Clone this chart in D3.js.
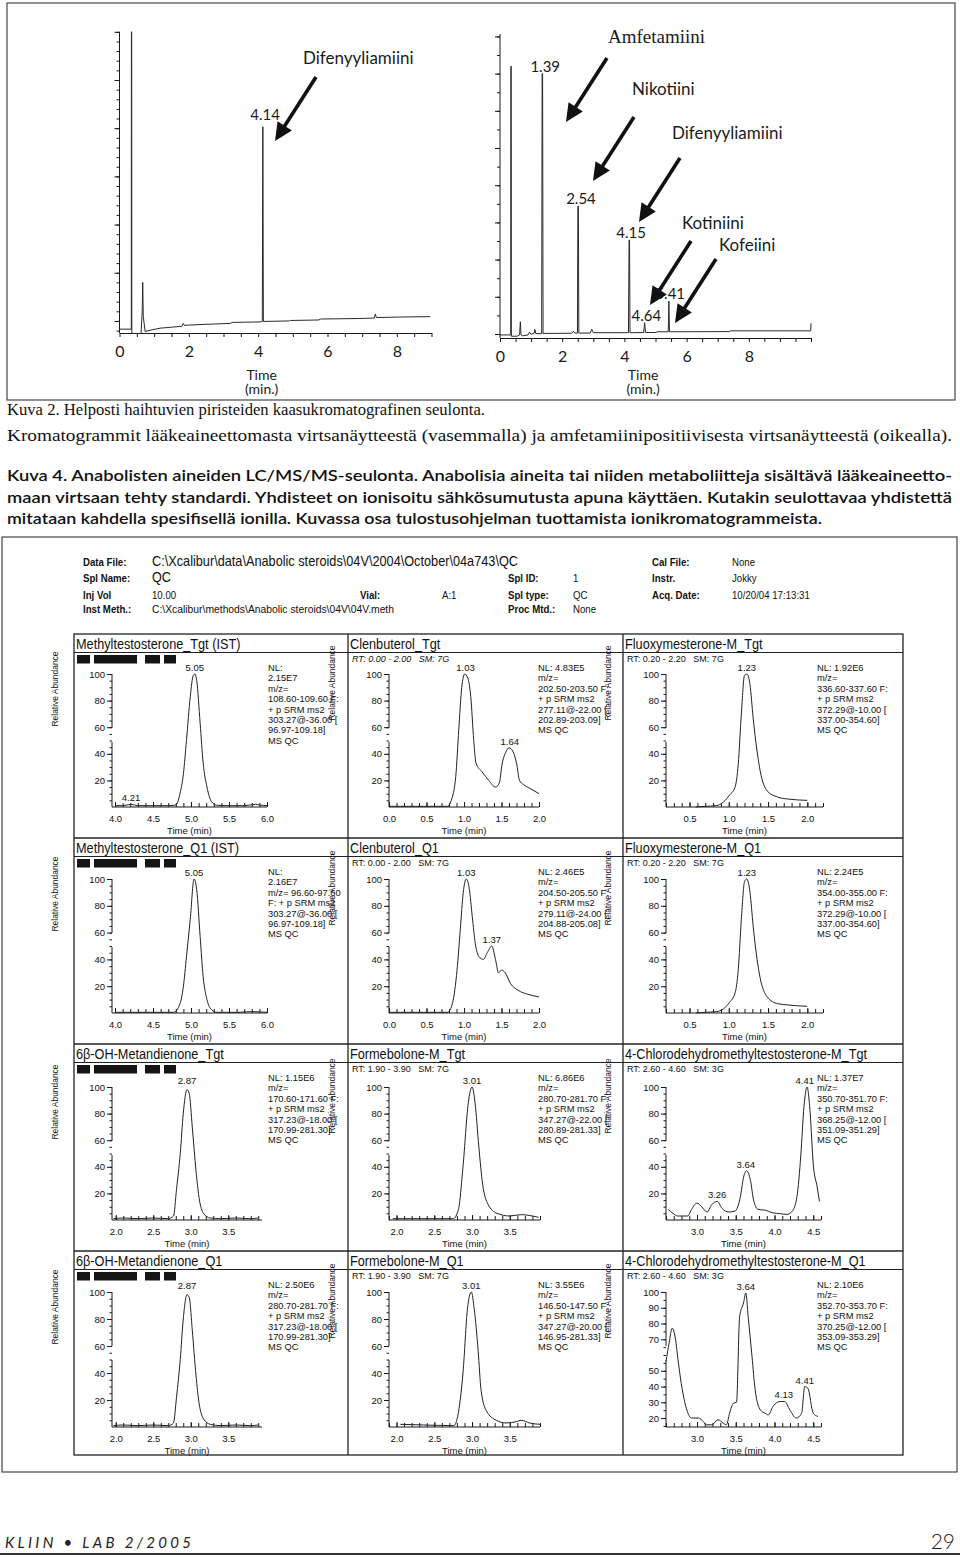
<!DOCTYPE html>
<html><head><meta charset="utf-8">
<script src="https://d3js.org/d3.v7.min.js"></script>
<style>html,body{margin:0;padding:0;background:#fff}</style>
</head><body>
<svg id="c" width="960" height="1557" xmlns="http://www.w3.org/2000/svg"></svg>
<script>
// ================= DATA =================
// GC chromatograms: [time (min), response]
const gcLeftTrace = [[0,-0.17],[0.34,-0.17],[0.343,6.0],[0.352,6.0],[0.356,-0.26],[0.62,-0.26],[0.655,0.2],[0.67,0.8],[0.685,0.1],[0.74,-0.22],[0.9,-0.19],[1.17,-0.15],[1.5,-0.13],[1.8,-0.11],[1.84,-0.05],[1.87,-0.09],[2.5,-0.07],[3.2,-0.05],[3.25,-0.03],[4.05,-0.02],[4.12,-0.01],[4.135,4.03],[4.15,-0.01],[4.9,0.0],[4.93,0.01],[5.75,0.02],[5.8,0.04],[6.9,0.05],[7.35,0.06],[7.38,0.14],[7.41,0.07],[8.0,0.08],[8.96,0.09]];
const gcLeftPeaks = [["4.14",4.14,4.03]];
const gcLeftArrows = [{name:"Difenyyliamiini",tip:[4.486,3.734],ldx:-13,ldy:-13}];
const gcRightTrace = [[0,-0.05],[0.345,-0.05],[0.35,14.4],[0.36,14.4],[0.365,-0.12],[0.55,-0.12],[0.63,-0.05],[0.655,0.66],[0.675,-0.05],[0.72,-0.1],[0.9,-0.05],[0.95,0.1],[1.0,-0.02],[1.1,0.05],[1.12,0.25],[1.15,0.02],[1.34,0.02],[1.355,14.0],[1.37,14.0],[1.385,0.03],[2.3,0.04],[2.36,0.15],[2.4,0.05],[2.49,0.05],[2.505,6.88],[2.52,6.88],[2.535,0.05],[2.9,0.05],[2.95,0.25],[3.0,0.07],[4.13,0.07],[4.15,5.05],[4.165,5.05],[4.18,0.07],[4.62,0.08],[4.65,0.61],[4.68,0.08],[5.03,0.08],[5.04,0.12],[5.41,0.12],[5.43,1.77],[5.45,0.12],[7.38,0.13],[7.4,0.17],[9.99,0.17],[10.0,0.57]];
const gcRightPeaks = [["1.39",1.39,14.0],["2.54",2.54,6.88],["4.15",4.15,5.05],["4.64",4.64,0.61],["5.41",5.41,1.77]];
const gcRightArrows = [
  {name:"Amfetamiini",tip:[2.122,11.40],ldx:1,ldy:-15,serif:true},
  {name:"Nikotiini",tip:[2.990,8.226],ldx:-2,ldy:-22},
  {name:"Difenyyliamiini",tip:[4.469,6.022],ldx:-8,ldy:-19},
  {name:"Kotiniini",tip:[4.823,1.559],ldx:-9,ldy:-12},
  {name:"Kofeiini",tip:[5.627,0.591],ldx:3,ldy:-8}];
const gcTickLabels = [0,2,4,6,8];

// LC/MS/MS ion chromatograms: [time (min), relative abundance %]
const mtTgt = [[4.0,1],[4.1,1],[4.21,2],[4.3,1],[4.5,1],[4.7,1],[4.8,1.5],[4.855,10],[4.9,25],[4.94,50],[4.99,83],[5.03,99],[5.05,100],[5.075,95],[5.12,63],[5.16,33],[5.21,15],[5.27,4],[5.34,1.3],[5.5,1],[5.7,1],[5.85,2],[5.9,1.5],[6.0,1]];
const mtQ1 = [[4.0,0.5],[4.3,0.5],[4.6,0.5],[4.77,0.5],[4.855,7],[4.9,20],[4.94,42],[4.99,70],[5.04,100],[5.075,92],[5.12,57],[5.16,27],[5.21,10],[5.27,2.5],[5.34,0.5],[5.6,0.5],[5.8,1],[6.0,0.5]];
const ohTgt = [[1.97,1],[2.1,1.5],[2.3,1],[2.5,1.5],[2.7,1],[2.77,3],[2.81,23],[2.86,50],[2.9,80],[2.95,98],[2.98,95],[3.02,70],[3.07,37],[3.11,17],[3.17,5],[3.26,1.5],[3.4,1],[3.6,1.5],[3.8,1],[3.9,1.5]];
const ohQ1 = [[1.97,1],[2.1,1.5],[2.3,1],[2.5,1.5],[2.7,1],[2.77,3],[2.81,22],[2.86,50],[2.9,80],[2.95,98],[2.98,96],[3.02,72],[3.07,38],[3.11,18],[3.17,6],[3.26,2],[3.4,1],[3.6,1.5],[3.8,1],[3.9,1.5]];
const clTgt = [[0,0.5],[0.4,0.5],[0.78,0.5],[0.83,5],[0.89,23],[0.93,58],[0.97,90],[1.01,100],[1.05,97],[1.09,83],[1.13,50],[1.16,33],[1.24,26.5],[1.33,20],[1.42,15],[1.47,18],[1.51,33],[1.56,41.5],[1.6,44.5],[1.65,42],[1.7,33],[1.74,20],[1.79,17],[1.88,14],[2.0,10]];
const clQ1 = [[0,0.5],[0.5,0.5],[0.78,0.5],[0.84,6],[0.9,28],[0.95,62],[0.99,90],[1.03,100],[1.07,93],[1.11,72],[1.15,52],[1.2,42],[1.26,40],[1.31,45],[1.37,50],[1.42,40],[1.46,30],[1.5,32],[1.55,30],[1.62,22],[1.72,17],[1.85,14],[2.0,12]];
const fxTgt = [[0.58,0],[0.7,0.5],[0.84,1],[0.93,3.7],[1.01,9],[1.08,15],[1.12,32],[1.16,70],[1.2,99],[1.23,100],[1.27,92],[1.31,67],[1.36,42],[1.4,27],[1.49,12],[1.62,7.5],[1.75,6],[2.0,5]];
const fxQ1 = [[0.58,0],[0.7,0.5],[0.84,1],[0.93,3],[1.01,8],[1.08,15],[1.12,32],[1.16,70],[1.2,98],[1.23,100],[1.27,90],[1.31,65],[1.36,40],[1.4,26],[1.49,12],[1.62,7],[1.75,6],[2.0,5]];
const fbTgt = [[1.95,1],[2.2,1],[2.5,1],[2.75,1],[2.82,8],[2.88,40],[2.95,88],[3.0,100],[3.04,88],[3.09,55],[3.14,27],[3.21,12],[3.33,5],[3.5,3],[3.65,4],[3.88,2]];
const fbQ1 = [[2.05,2],[2.36,1.5],[2.76,1],[2.81,8],[2.88,40],[2.94,88],[2.99,100],[3.03,87],[3.08,57],[3.12,27],[3.19,12],[3.32,5],[3.45,3],[3.59,4],[3.65,5],[3.76,3],[3.9,2]];
const chTgt = [[2.63,7.9],[2.69,5],[2.75,3],[2.88,3],[2.93,8],[3.0,12.7],[3.06,10],[3.13,6],[3.19,11.5],[3.26,14],[3.32,9],[3.41,6],[3.49,6.7],[3.56,17.6],[3.6,32],[3.64,37],[3.69,29.7],[3.73,15],[3.79,7.9],[3.88,7.4],[3.97,5.5],[4.08,4.7],[4.16,4.2],[4.23,6.7],[4.29,17.6],[4.34,49],[4.38,85],[4.42,100],[4.46,80.6],[4.5,42],[4.55,25],[4.58,14]];
const chQ1 = [[2.6,56],[2.64,67.6],[2.68,77],[2.72,70.8],[2.76,55],[2.81,38],[2.87,25],[2.93,20],[3.02,20],[3.08,17.8],[3.12,15.7],[3.19,15.7],[3.27,18.9],[3.34,16.7],[3.38,15.7],[3.42,23],[3.47,29.4],[3.51,30],[3.55,84.5],[3.6,93],[3.63,99.4],[3.66,84.5],[3.71,59],[3.75,38],[3.82,25],[3.88,23],[3.92,22],[3.98,27.3],[4.07,30.5],[4.13,30.5],[4.2,25],[4.28,20],[4.35,23],[4.39,40],[4.43,39],[4.5,23],[4.56,21]];

const panelTitles = [
  ["Methyltestosterone_Tgt (IST)","Clenbuterol_Tgt","Fluoxymesterone-M_Tgt"],
  ["Methyltestosterone_Q1 (IST)","Clenbuterol_Q1","Fluoxymesterone-M_Q1"],
  ["6β-OH-Metandienone_Tgt","Formebolone-M_Tgt","4-Chlorodehydromethyltestosterone-M_Tgt"],
  ["6β-OH-Metandienone_Q1","Formebolone-M_Q1","4-Chlorodehydromethyltestosterone-M_Q1"]];
const panelSeries = [[mtTgt,clTgt,fxTgt],[mtQ1,clQ1,fxQ1],[ohTgt,fbTgt,chTgt],[ohQ1,fbQ1,chQ1]];
const panelRT = [[null,"RT: 0.00 - 2.00   SM: 7G","RT: 0.20 - 2.20   SM: 7G"],[null,"RT: 0.00 - 2.00   SM: 7G","RT: 0.20 - 2.20   SM: 7G"],[null,"RT: 1.90 - 3.90   SM: 7G","RT: 2.60 - 4.60   SM: 3G"],[null,"RT: 1.90 - 3.90   SM: 7G","RT: 2.60 - 4.60   SM: 3G"]];
const panelInfo = [
  [["NL:","2.15E7","m/z=","108.60-109.60 F:","+ p SRM ms2","303.27@-36.00 [","96.97-109.18]","MS QC"],
   ["NL: 4.83E5","m/z=","202.50-203.50 F:","+ p SRM ms2","277.11@-22.00 [","202.89-203.09]","MS QC"],
   ["NL: 1.92E6","m/z=","336.60-337.60 F:","+ p SRM ms2","372.29@-10.00 [","337.00-354.60]","MS QC"]],
  [["NL:","2.16E7","m/z= 96.60-97.60","F: + p SRM ms2","303.27@-36.00 [","96.97-109.18]","MS QC"],
   ["NL: 2.46E5","m/z=","204.50-205.50 F:","+ p SRM ms2","279.11@-24.00 [","204.88-205.08]","MS QC"],
   ["NL: 2.24E5","m/z=","354.00-355.00 F:","+ p SRM ms2","372.29@-10.00 [","337.00-354.60]","MS QC"]],
  [["NL: 1.15E6","m/z=","170.60-171.60 F:","+ p SRM ms2","317.23@-18.00 [","170.99-281.30]","MS QC"],
   ["NL: 6.86E6","m/z=","280.70-281.70 F:","+ p SRM ms2","347.27@-22.00 [","280.89-281.33]","MS QC"],
   ["NL: 1.37E7","m/z=","350.70-351.70 F:","+ p SRM ms2","368.25@-12.00 [","351.09-351.29]","MS QC"]],
  [["NL: 2.50E6","m/z=","280.70-281.70 F:","+ p SRM ms2","317.23@-18.00 [","170.99-281.30]","MS QC"],
   ["NL: 3.55E6","m/z=","146.50-147.50 F:","+ p SRM ms2","347.27@-20.00 [","146.95-281.33]","MS QC"],
   ["NL: 2.10E6","m/z=","352.70-353.70 F:","+ p SRM ms2","370.25@-12.00 [","353.09-353.29]","MS QC"]]];
const panelPeaks = [
  [[["5.05",5.05,100],["4.21",4.21,2]],[["1.03",1.02,100],["1.64",1.61,44.5]],[["1.23",1.23,100]]],
  [[["5.05",5.04,100]],[["1.03",1.03,100],["1.37",1.37,50]],[["1.23",1.23,100]]],
  [[["2.87",2.95,100]],[["3.01",3.0,100]],[["4.41",4.39,100],["3.64",3.63,37],["3.26",3.26,14]]],
  [[["2.87",2.95,100]],[["3.01",2.99,100]],[["3.64",3.63,99.4],["4.13",4.12,30.5],["4.41",4.39,40]]]];
const panelXDomain = [[[3.96,6.0],[0,2.0],[0.2,2.2]],[[3.96,6.0],[0,2.0],[0.2,2.2]],[[1.95,3.95],[1.9,3.9],[2.6,4.6]],[[1.95,3.95],[1.9,3.9],[2.6,4.6]]];
const panelXTicks = [[[4.0,4.5,5.0,5.5,6.0],[0,0.5,1.0,1.5,2.0],[0.5,1.0,1.5,2.0]],[[4.0,4.5,5.0,5.5,6.0],[0,0.5,1.0,1.5,2.0],[0.5,1.0,1.5,2.0]],[[2.0,2.5,3.0,3.5],[2.0,2.5,3.0,3.5],[3.0,3.5,4.0,4.5]],[[2.0,2.5,3.0,3.5],[2.0,2.5,3.0,3.5],[3.0,3.5,4.0,4.5]]];
const yTicksStd = [20,40,60,80,100];
const yTicksQ1ch = [20,30,40,50,70,80,90,100];

const headerRows = [
  [["Data File:",83,"b"],["C:\\Xcalibur\\data\\Anabolic steroids\\04V\\2004\\October\\04a743\\QC",152,"L",366],["Cal File:",652,"b"],["None",732,"n"]],
  [["Spl Name:",83,"b"],["QC",152,"L"],["Spl ID:",508,"b"],["1",573,"n"],["Instr.",652,"b"],["Jokky",732,"n"]],
  [["Inj Vol",83,"b"],["10.00",152,"n"],["Vial:",360,"b"],["A:1",442,"n"],["Spl type:",508,"b"],["QC",573,"n"],["Acq. Date:",652,"b"],["10/20/04 17:13:31",732,"n"]],
  [["Inst Meth.:",83,"b"],["C:\\Xcalibur\\methods\\Anabolic steroids\\04V\\04V.meth",152,"n",242],["Proc Mtd.:",508,"b"],["None",573,"n"]]];

// ================= DRAW =================
const SANS="'Liberation Sans', Arial, Helvetica, sans-serif";
const OPT="Lato, 'Open Sans', sans-serif";
const SERIF="'Liberation Serif', 'Times New Roman', serif";
const INK="#1a1a1a";
const svg=d3.select('#c');
svg.append('rect').attr('width',960).attr('height',1557).attr('fill','#fff');

// ---------- top GC section ----------
svg.append('rect').attr('x',7).attr('y',3).attr('width',948).attr('height',397)
  .attr('fill','none').attr('stroke','#555').attr('stroke-width',1.3);

function gcChart(o){
  const x=d3.scaleLinear().domain(o.xd).range(o.xr);
  const y=d3.scaleLinear().domain(o.yd).range(o.yr);
  const g=svg.append('g');
  const style=s=>{s.selectAll('path,line').attr('stroke',INK).attr('stroke-width',1);};
  g.append('g').attr('transform',`translate(${o.xr[0]},0)`)
    .call(d3.axisLeft(y).tickValues(o.yMinor).tickSize(3).tickSizeOuter(0).tickFormat(''))
    .call(style).call(s=>s.select('.domain').remove());
  g.append('g').attr('transform',`translate(${o.xr[0]},0)`)
    .call(d3.axisLeft(y).tickValues(o.yMajor).tickSize(5).tickSizeOuter(0).tickFormat(''))
    .call(style).call(s=>s.select('.domain').remove());
  g.append('line').attr('x1',o.xr[0]).attr('x2',o.xr[0]).attr('y1',o.yr[0]).attr('y2',o.yr[1]).attr('stroke',INK);
  g.append('g').attr('transform',`translate(0,${o.yr[0]})`)
    .call(d3.axisBottom(x).tickValues(o.xTicks).tickSize(4).tickSizeOuter(0).tickPadding(9)
      .tickFormat(d=>gcTickLabels.includes(d)?d:''))
    .call(style)
    .call(s=>s.selectAll('text').attr('font-family',OPT).attr('font-size',16).attr('fill',INK));
  g.append('path').datum(o.trace).attr('fill','none').attr('stroke','#2a2a2a').attr('stroke-width',1)
    .attr('d',d3.line().x(d=>x(d[0])).y(d=>y(d[1])));
  g.selectAll('.pk').data(o.peaks).join('text')
    .attr('x',d=>x(d[1])+o.pkdx).attr('y',d=>y(d[2])-o.pkOff)
    .attr('text-anchor','middle').attr('font-family',o.pkFont).attr('font-size',15).attr('fill',INK).text(d=>d[0]);
  o.arrows.forEach(a=>{
    const tx=x(a.tip[0]), ty=y(a.tip[1]);
    const sx=tx+41, sy=ty-64;
    const dx=tx-sx, dy=ty-sy, L=Math.hypot(dx,dy), ux=dx/L, uy=dy/L;
    const hl=18, hw=8.5;
    const bx=tx-ux*hl, by=ty-uy*hl;
    g.append('line').attr('x1',sx).attr('y1',sy).attr('x2',bx+ux*2).attr('y2',by+uy*2)
      .attr('stroke','#111').attr('stroke-width',3.6);
    g.append('path').attr('fill','#111')
      .attr('d',`M${tx},${ty}L${bx-uy*hw},${by+ux*hw}L${bx+uy*hw},${by-ux*hw}Z`);
    g.append('text').attr('x',sx+a.ldx).attr('y',sy+a.ldy)
      .attr('font-family',a.serif?SERIF:OPT).attr('font-size',a.serif?19:17).attr('fill',INK).text(a.name);
  });
  g.append('text').attr('x',x(o.timeAt)).attr('y',380).attr('text-anchor','middle')
    .attr('font-family',OPT).attr('font-size',14).attr('fill',INK).text('Time');
  g.append('text').attr('x',x(o.timeAt)).attr('y',394).attr('text-anchor','middle')
    .attr('font-family',OPT).attr('font-size',14).attr('fill',INK).text('(min.)');
}
gcChart({xd:[0,9],xr:[119.5,431.5],yd:[-0.25,6.0],yr:[333,31.8],
  yMajor:d3.range(0,6.01,1),yMinor:d3.range(-0.2,6.01,0.2),xTicks:d3.range(0,9.01,0.5),
  trace:gcLeftTrace,peaks:gcLeftPeaks,arrows:gcLeftArrows,pkOff:7,pkdx:2,pkFont:OPT,timeAt:4.1});
gcChart({xd:[0,10],xr:[500,811],yd:[-0.215,16.13],yr:[338,34],
  yMajor:d3.range(0,16.01,2),yMinor:d3.range(0,16.01,1),xTicks:d3.range(0,10.01,0.5),
  trace:gcRightTrace,peaks:gcRightPeaks,arrows:gcRightArrows,pkOff:2,pkdx:2,pkFont:OPT,timeAt:4.6});

// ---------- captions ----------
function cap(txt,x,y,font,size,weight,len){
  const t=svg.append('text').attr('x',x).attr('y',y).attr('font-family',font).attr('font-size',size)
    .attr('font-weight',weight).attr('fill','#111').text(txt);
  if(len) t.attr('textLength',len).attr('lengthAdjust','spacingAndGlyphs');
}
cap("Kuva 2. Helposti haihtuvien piristeiden kaasukromatografinen seulonta.",7,415,SERIF,16.5,'normal',478);
cap("Kromatogrammit lääkeaineettomasta virtsanäytteestä (vasemmalla) ja amfetamiinipositiivisesta virtsanäytteestä (oikealla).",7,441,SERIF,16.5,'normal',945);
cap("Kuva 4. Anabolisten aineiden LC/MS/MS-seulonta. Anabolisia aineita tai niiden metaboliitteja sisältävä lääkeaineetto-",7,481,OPT,15.5,'600',945);
cap("maan virtsaan tehty standardi. Yhdisteet on ionisoitu sähkösumutusta apuna käyttäen. Kutakin seulottavaa yhdistettä",7,503,OPT,15.5,'600',945);
cap("mitataan kahdella spesifisellä ionilla. Kuvassa osa tulostusohjelman tuottamista ionikromatogrammeista.",7,524,OPT,15.5,'600',815);

// ---------- LC/MS section ----------
svg.append('rect').attr('x',2).attr('y',537).attr('width',955).attr('height',935)
  .attr('fill','none').attr('stroke','#444').attr('stroke-width',1.2);
const headerBase=[566,582,599,613];
headerRows.forEach((row,i)=>row.forEach(([txt,x,st,len])=>{
  const t=svg.append('text').attr('font-family',SANS).attr('fill','#111').text(txt);
  const fs= st==='L'?15:11.5;
  t.attr('font-size',fs).attr('font-weight',st==='b'?'bold':'normal');
  if(len){ t.attr('x',x).attr('y',headerBase[i]).attr('textLength',len).attr('lengthAdjust','spacingAndGlyphs'); }
  else { t.attr('transform',`translate(${x},${headerBase[i]}) scale(0.84,1)`); }
}));

const rowTop=[634,838,1044,1251];
const rowY100=[674,879,1087,1292];
const rowY0=[807,1013,1220,1427];
const colLeft=[74,348,623], gridRight=903, gridBottom=1455;
const colAxisX=[112,389,666];
const colAxisEnd=[[267,262],[539,540],[823,821]];
const annX=[268,538,817];
// grid
const grid=svg.append('g').attr('stroke','#222').attr('fill','none');
grid.append('rect').attr('x',colLeft[0]).attr('y',rowTop[0]).attr('width',gridRight-colLeft[0]).attr('height',gridBottom-rowTop[0]).attr('stroke-width',1.3);
[colLeft[1],colLeft[2]].forEach(cx=>grid.append('line').attr('x1',cx).attr('x2',cx).attr('y1',rowTop[0]).attr('y2',gridBottom).attr('stroke-width',1.3));
rowTop.forEach((t,i)=>{
  if(i>0) grid.append('line').attr('x1',colLeft[0]).attr('x2',gridRight).attr('y1',t).attr('y2',t).attr('stroke-width',1.3);
  grid.append('line').attr('x1',colLeft[0]).attr('x2',gridRight).attr('y1',t+18.5).attr('y2',t+18.5).attr('stroke-width',1);
});
const blockOff=[[3,16],[20,63],[71,86],[90,102]];

function lcPanel(r,c){
  const T=rowTop[r], y0=rowY0[r], y100=rowY100[r], cl=colLeft[c];
  const half=r<2?0:1;
  const ax=colAxisX[c], axEnd=colAxisEnd[c][half];
  const isQ1ch=(r===3&&c===2);
  const x=d3.scaleLinear().domain(panelXDomain[r][c]).range([ax,axEnd]);
  const y=d3.scaleLinear().domain(isQ1ch?[14.3,100]:[0,100]).range([y0,y100]);
  const g=svg.append('g');
  // title
  g.append('text').attr('transform',`translate(${cl+2},${T+15}) scale(0.82,1)`)
    .attr('font-family',SANS).attr('font-size',15.5).attr('fill','#111').text(panelTitles[r][c]);
  if(c===0){
    g.selectAll('.blk').data(blockOff).join('rect').attr('x',d=>cl+d[0]).attr('y',T+21)
      .attr('width',d=>d[1]-d[0]).attr('height',8.5).attr('fill','#151515');
  }
  if(panelRT[r][c]){
    g.append('text').attr('x',cl+4).attr('y',T+28).attr('font-family',SANS).attr('font-size',9)
      .attr('font-style',(r===0&&c===1)?'italic':'normal').attr('fill','#111').attr('xml:space','preserve')
      .style('white-space','pre').text(panelRT[r][c]);
  }
  // y axis
  const yt=isQ1ch?yTicksQ1ch:yTicksStd;
  const yMinor=isQ1ch?d3.range(15,100.1,5):d3.range(5,100.1,5);
  const ys=s=>{s.selectAll('line').attr('stroke',INK); s.select('.domain').remove();};
  g.append('g').attr('transform',`translate(${ax},0)`)
    .call(d3.axisLeft(y).tickValues(yMinor).tickSize(2.5).tickFormat('')).call(ys);
  g.append('g').attr('transform',`translate(${ax},0)`)
    .call(d3.axisLeft(y).tickValues(yt).tickSize(5).tickPadding(2)).call(ys)
    .call(s=>s.selectAll('text').attr('font-family',SANS).attr('font-size',9.5).attr('fill','#111'));
  g.append('line').attr('x1',ax).attr('x2',ax).attr('y1',y100).attr('y2',y100+54).attr('stroke',INK);
  g.append('line').attr('x1',ax).attr('x2',ax).attr('y1',y100+68).attr('y2',y0).attr('stroke',INK);
  // x axis
  const xd=panelXDomain[r][c];
  const minor=d3.range(Math.ceil(xd[0]*10)/10, xd[1]+1e-6, 0.1);
  const xs=s=>{s.selectAll('line').attr('stroke',INK); s.select('.domain').remove();};
  g.append('g').attr('transform',`translate(0,${y0})`)
    .call(d3.axisBottom(x).tickValues(minor).tickSize(-4).tickFormat('')).call(xs);
  g.append('g').attr('transform',`translate(0,${y0})`)
    .call(d3.axisBottom(x).tickValues(panelXTicks[r][c]).tickSize(-5).tickPadding(8).tickFormat(d3.format('.1f'))).call(xs)
    .call(s=>s.selectAll('text').attr('font-family',SANS).attr('font-size',9.5).attr('fill','#111'));
  g.append('line').attr('x1',ax).attr('x2',axEnd).attr('y1',y0).attr('y2',y0).attr('stroke',INK);
  g.append('text').attr('x',(ax+axEnd)/2).attr('y',y0+27).attr('text-anchor','middle')
    .attr('font-family',SANS).attr('font-size',9.5).attr('fill','#111').text('Time (min)');
  // trace
  g.append('path').datum(panelSeries[r][c]).attr('fill','none').attr('stroke','#222').attr('stroke-width',1)
    .attr('d',d3.line().x(d=>x(d[0])).y(d=>y(d[1])).curve(d3.curveMonotoneX));
  // peak labels
  g.selectAll('.pl').data(panelPeaks[r][c]).join('text')
    .attr('x',d=>x(d[1])).attr('y',d=>y(d[2])-3).attr('text-anchor','middle')
    .attr('font-family',SANS).attr('font-size',9.5).attr('fill','#111').text(d=>d[0]);
  // info block
  g.selectAll('.inf').data(panelInfo[r][c]).join('text')
    .attr('x',annX[c]).attr('y',(d,i)=>T+37+i*10.4)
    .attr('font-family',SANS).attr('font-size',9.3).attr('fill','#111').text(d=>d);
  // y-axis title (left margin) and overlapping neighbour title
  if(c===0){
    g.append('text').attr('transform',`translate(58,${y100+15}) rotate(-90)`).attr('text-anchor','middle')
      .attr('font-family',SANS).attr('font-size',8.5).attr('textLength',75).attr('lengthAdjust','spacingAndGlyphs')
      .attr('fill','#111').text('Relative Abundance');
  }
  if(c<2){
    const rx=c===0?335:611;
    g.append('text').attr('transform',`translate(${rx},${y100+9}) rotate(-90)`).attr('text-anchor','middle')
      .attr('font-family',SANS).attr('font-size',8.5).attr('textLength',75).attr('lengthAdjust','spacingAndGlyphs')
      .attr('fill','#111').text('Relative Abundance');
  }
}
for(let r=0;r<4;r++) for(let c=0;c<3;c++) lcPanel(r,c);

// ---------- footer ----------
svg.append('text').attr('x',5).attr('y',1548).attr('font-family',OPT).attr('font-style','italic')
  .attr('font-size',15).attr('textLength',186).attr('lengthAdjust','spacing').attr('fill','#222')
  .text('KLIIN • LAB  2/2005');
svg.append('text').attr('x',955).attr('y',1549).attr('text-anchor','end').attr('font-family',OPT)
  .attr('font-weight',300).attr('font-size',21).attr('fill','#222').text('29');
svg.append('line').attr('x1',0).attr('x2',960).attr('y1',1554).attr('y2',1554).attr('stroke','#333').attr('stroke-width',2);
</script>
</body></html>
